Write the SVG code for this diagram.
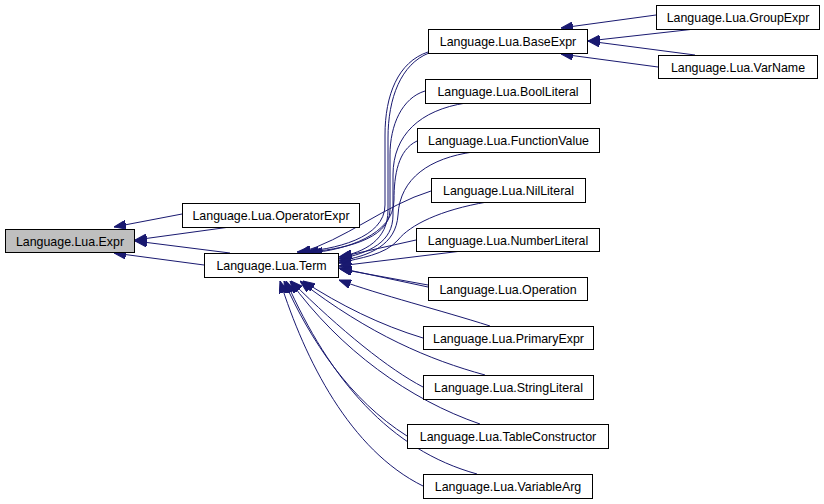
<svg xmlns="http://www.w3.org/2000/svg" width="824" height="504" viewBox="0 0 824 504">
<style>
.n rect{fill:#fff;stroke:#000;stroke-width:1}
.n text{font-family:"Liberation Sans",Arial,sans-serif;font-size:12.4px;text-anchor:middle;fill:#000}
#edges path{fill:none;stroke:#191970;stroke-width:1;marker-end:url(#a)}
</style>
<defs>
<marker id="a" viewBox="0 0 12 9" refX="12" refY="4.5" markerWidth="12" markerHeight="9" orient="auto" markerUnits="userSpaceOnUse">
<path d="M0,0 L12,4.5 L0,9 z" fill="#191970" stroke="#191970" stroke-width="1"/>
</marker>
</defs>
<rect width="824" height="504" fill="#fff"/>
<g id="edges">
<path d="M182,214 L114,227"/>
<path d="M230,227 L135,240"/>
<path d="M230,253 L135,241"/>
<path d="M204,265 L114,253"/>
<path d="M656,15 L561,28"/>
<path d="M695,29 L588,41"/>
<path d="M695,55 L588,41"/>
<path d="M658,67 L561,54"/>
<path d="M428,52 C398,62 385,95 385,135 L385,205 C385,238 335,250 297,252"/>
<path d="M429,53 C401,64 388,98 388,138 L388,210 C388,240 365,252 339,257"/>
<path d="M425,91 C402,98 390,125 390,155 L390,210 C390,240 340,250 306,252"/>
<path d="M466,103 C420,110 393,135 393,175 L393,215 C393,242 370,253 339,259"/>
<path d="M417,141 C398,150 394,175 394,200 C394,235 345,250 310,253"/>
<path d="M473,152 C430,158 400,178 398,215 C396,245 370,256 339,261"/>
<path d="M431,191 C385,205 345,240 299,253"/>
<path d="M487,202 C440,210 410,225 398,240 C385,255 360,258 339,263"/>
<path d="M416,240 L340,257"/>
<path d="M462,251 L339,266"/>
<path d="M428,287 L339,268"/>
<path d="M428,285 L340,269"/>
<path d="M490,326 C440,310 380,295 339,280"/>
<path d="M423,338 C380,325 340,305 303,281"/>
<path d="M485,375 C430,360 370,335 300,281"/>
<path d="M423,387 C390,370 340,330 291,281"/>
<path d="M480,424 C410,400 340,350 290,281"/>
<path d="M407,436 C350,400 310,340 284,281"/>
<path d="M477,474 C390,450 330,380 286,281"/>
<path d="M423,486 C350,450 305,360 280,281"/>
</g>
<g id="expr" class="n"><rect x="5.5" y="229.5" width="129" height="23" style="fill:#bfbfbf"/><text x="70" y="245.5">Language.Lua.Expr</text></g>
<g id="operatorexpr" class="n"><rect x="182.5" y="203.5" width="177" height="24"/><text x="271" y="220">Language.Lua.OperatorExpr</text></g>
<g id="term" class="n"><rect x="204.5" y="253.5" width="134" height="24"/><text x="271.5" y="270">Language.Lua.Term</text></g>
<g id="baseexpr" class="n"><rect x="428.5" y="29.5" width="159" height="24"/><text x="508" y="46">Language.Lua.BaseExpr</text></g>
<g id="boolliteral" class="n"><rect x="425.5" y="79.5" width="165" height="24"/><text x="508" y="96">Language.Lua.BoolLiteral</text></g>
<g id="functionvalue" class="n"><rect x="417.5" y="128.5" width="182" height="24"/><text x="508.5" y="145">Language.Lua.FunctionValue</text></g>
<g id="nilliteral" class="n"><rect x="431.5" y="178.5" width="154" height="24"/><text x="508.5" y="195">Language.Lua.NilLiteral</text></g>
<g id="numberliteral" class="n"><rect x="416.5" y="228.5" width="183" height="23"/><text x="508" y="244.5">Language.Lua.NumberLiteral</text></g>
<g id="operation" class="n"><rect x="428.5" y="277.5" width="159" height="23"/><text x="508" y="293.5">Language.Lua.Operation</text></g>
<g id="primaryexpr" class="n"><rect x="423.5" y="326.5" width="170" height="23"/><text x="508.5" y="342.5">Language.Lua.PrimaryExpr</text></g>
<g id="stringliteral" class="n"><rect x="423.5" y="375.5" width="170" height="24"/><text x="508.5" y="392">Language.Lua.StringLiteral</text></g>
<g id="tableconstructor" class="n"><rect x="407.5" y="424.5" width="201" height="24"/><text x="508" y="441">Language.Lua.TableConstructor</text></g>
<g id="variablearg" class="n"><rect x="423.5" y="474.5" width="169" height="24"/><text x="508" y="491">Language.Lua.VariableArg</text></g>
<g id="groupexpr" class="n"><rect x="656.5" y="5.5" width="163" height="24"/><text x="738" y="22">Language.Lua.GroupExpr</text></g>
<g id="varname" class="n"><rect x="658.5" y="55.5" width="159" height="23"/><text x="738" y="71.5">Language.Lua.VarName</text></g>
</svg>
